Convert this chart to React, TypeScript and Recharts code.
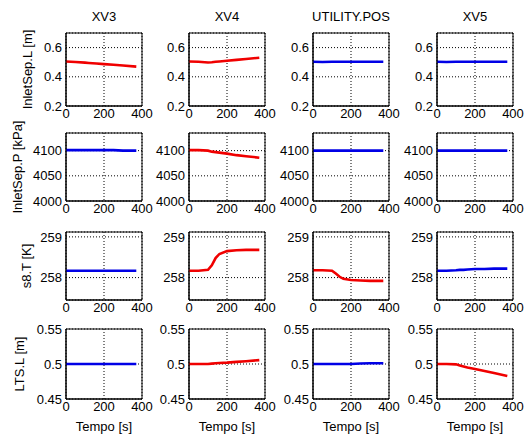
import React from 'react';
import { LineChart, Line, XAxis, YAxis, CartesianGrid, ReferenceArea } from 'recharts';

// ---- data ----
const tempo = [0, 50, 100, 120, 140, 160, 200, 250, 300, 370];

const columnTitles = ['XV3', 'XV4', 'UTILITY.POS', 'XV5'];
const rowLabels = ['InletSep.L [m]', 'InletSep.P [kPa]', 's8.T [K]', 'LTS.L [m]'];
const xTicks = [0, 200, 400];

const inletLTicks = [0.2, 0.4, 0.6];
const inletPTicks = [4000, 4050, 4100];
const s8TTicks = [258, 259];
const ltsLTicks = [0.45, 0.5, 0.55];

// InletSep.L [m]
const xv3InletL = [0.505, 0.501, 0.497, 0.495, 0.493, 0.491, 0.487, 0.482, 0.477, 0.47];
const xv4InletL = [0.505, 0.503, 0.498, 0.5, 0.503, 0.505, 0.51, 0.516, 0.522, 0.531];
const utilInletL = [0.503, 0.501, 0.503, 0.503, 0.503, 0.503, 0.503, 0.503, 0.503, 0.503];
const xv5InletL = [0.503, 0.501, 0.503, 0.503, 0.503, 0.503, 0.503, 0.503, 0.503, 0.503];

// InletSep.P [kPa]
const xv3InletP = [4101, 4101, 4101, 4101, 4101, 4101, 4101, 4101, 4100, 4100];
const xv4InletP = [4101, 4101, 4100, 4098, 4097, 4096, 4094, 4091, 4089, 4086];
const utilInletP = [4100, 4100, 4100, 4100, 4100, 4100, 4100, 4100, 4100, 4100];
const xv5InletP = [4100, 4100, 4100, 4100, 4100, 4100, 4100, 4100, 4100, 4100];

// s8.T [K]
const xv3S8T = [258.17, 258.17, 258.17, 258.17, 258.17, 258.17, 258.17, 258.17, 258.17, 258.17];
const xv4S8T = [258.17, 258.17, 258.19, 258.3, 258.48, 258.58, 258.65, 258.67, 258.68, 258.68];
const utilS8T = [258.18, 258.18, 258.17, 258.1, 258.02, 257.97, 257.94, 257.93, 257.92, 257.92];
const xv5S8T = [258.17, 258.17, 258.18, 258.19, 258.19, 258.2, 258.21, 258.21, 258.22, 258.22];

// LTS.L [m]
const xv3LtsL = [0.5, 0.5, 0.5, 0.5, 0.5, 0.5, 0.5, 0.5, 0.5, 0.5];
const xv4LtsL = [0.5, 0.5, 0.5, 0.5005, 0.501, 0.5015, 0.502, 0.503, 0.504, 0.5055];
const utilLtsL = [0.5, 0.5, 0.5, 0.5, 0.5, 0.5, 0.5, 0.5008, 0.501, 0.501];
const xv5LtsL = [0.5, 0.5, 0.4995, 0.498, 0.4965, 0.495, 0.493, 0.49, 0.487, 0.483];

const RED = '#f00000';
const BLUE = '#0000e6';

const rows = [
  { ticks: inletLTicks, domain: [0.2, 0.7], series: [xv3InletL, xv4InletL, utilInletL, xv5InletL], colors: [RED, RED, BLUE, BLUE] },
  { ticks: inletPTicks, domain: [4000, 4135], series: [xv3InletP, xv4InletP, utilInletP, xv5InletP], colors: [BLUE, RED, BLUE, BLUE] },
  { ticks: s8TTicks, domain: [257.45, 259.12], series: [xv3S8T, xv4S8T, utilS8T, xv5S8T], colors: [BLUE, RED, RED, BLUE] },
  { ticks: ltsLTicks, domain: [0.45, 0.55], series: [xv3LtsL, xv4LtsL, utilLtsL, xv5LtsL], colors: [BLUE, RED, BLUE, RED] },
];

// ---- layout ----
const colLeft = [66, 189, 313, 437];
const boxW = 76;
const rowTop = [33, 133, 232, 329];
const rowH = [73, 68, 68, 70];
const yLabelX = [27, 17, 26, 19];
const Y_AXIS_W = 40;
const RIGHT_M = 16;
const TOP_M = 10;

type PanelProps = {
  values: number[];
  color: string;
  ticks: number[];
  domain: number[];
  left: number;
  top: number;
  boxH: number;
  xLabel?: string;
};

function Panel({ values, color, ticks, domain, left, top, boxH, xLabel }: PanelProps) {
  const data = tempo.map((t, i) => ({ t, v: values[i] }));
  const xh = xLabel ? 36 : 20;
  return (
    <div style={{ position: 'absolute', left: left - Y_AXIS_W, top: top - TOP_M }}>
      <LineChart
        width={Y_AXIS_W + boxW + RIGHT_M}
        height={TOP_M + boxH + xh}
        data={data}
        margin={{ top: TOP_M, right: RIGHT_M, left: 0, bottom: 0 }}
      >
        <CartesianGrid stroke="#000" strokeDasharray="1 2" strokeWidth={1} fill="none" />
        <XAxis
          dataKey="t"
          type="number"
          domain={[0, 400]}
          ticks={xTicks}
          interval={0}
          tickSize={0}
          tickMargin={3}
          height={xh}
          axisLine={{ stroke: '#000' }}
          tick={{ fill: '#000', fontSize: 13 }}
          label={xLabel ? { value: xLabel, position: 'insideBottom', offset: 4, fill: '#000', fontSize: 13 } : undefined}
        />
        <YAxis
          type="number"
          domain={domain}
          ticks={ticks}
          interval={0}
          allowDataOverflow
          width={Y_AXIS_W}
          tickSize={0}
          tickMargin={4}
          axisLine={{ stroke: '#000' }}
          tick={{ fill: '#000', fontSize: 13 }}
        />
        <ReferenceArea
          x1={0}
          x2={400}
          y1={domain[0]}
          y2={domain[1]}
          stroke="#000"
          strokeWidth={1}
          fill="none"
          fillOpacity={0}
          ifOverflow="visible"
        />
        <Line
          dataKey="v"
          type="linear"
          stroke={color}
          strokeWidth={2.6}
          dot={false}
          isAnimationActive={false}
        />
      </LineChart>
    </div>
  );
}

export default function App() {
  return (
    <div
      style={{
        position: 'absolute',
        left: 0,
        top: 0,
        width: 526,
        height: 435,
        background: '#fff',
        fontFamily: '"Liberation Sans", Arial, sans-serif',
        overflow: 'hidden',
      }}
    >
      {rows.map((row, r) =>
        row.series.map((vals, c) => (
          <Panel
            key={`${r}-${c}`}
            values={vals}
            color={row.colors[c]}
            ticks={row.ticks}
            domain={row.domain}
            left={colLeft[c]}
            top={rowTop[r]}
            boxH={rowH[r]}
            xLabel={r === 3 ? 'Tempo [s]' : undefined}
          />
        ))
      )}
      <svg
        width={526}
        height={435}
        style={{ position: 'absolute', left: 0, top: 0, pointerEvents: 'none' }}
      >
        {columnTitles.map((t, c) => (
          <text
            key={t}
            x={colLeft[c] + boxW / 2}
            y={16}
            textAnchor="middle"
            dominantBaseline="central"
            fontSize={13}
            fill="#000"
          >
            {t}
          </text>
        ))}
        {rowLabels.map((l, r) => {
          const cy = rowTop[r] + rowH[r] / 2;
          return (
            <text
              key={l}
              x={yLabelX[r]}
              y={cy}
              transform={`rotate(-90 ${yLabelX[r]} ${cy})`}
              textAnchor="middle"
              dominantBaseline="central"
              fontSize={13}
              fill="#000"
            >
              {l}
            </text>
          );
        })}
      </svg>
    </div>
  );
}
